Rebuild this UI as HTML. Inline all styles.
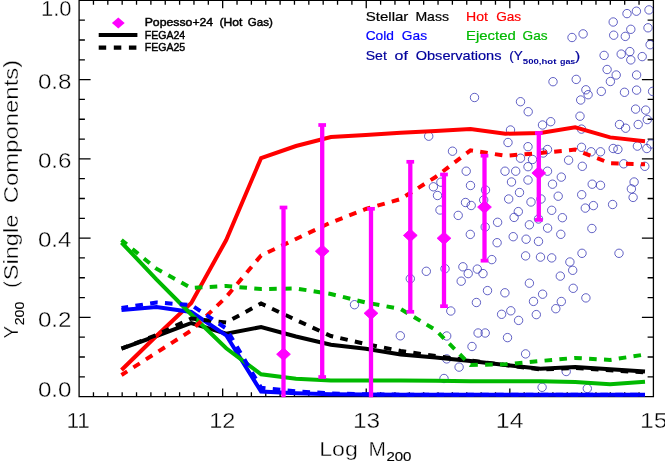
<!DOCTYPE html>
<html><head><meta charset="utf-8"><title>Y200 vs Log M200</title>
<style>
html,body{margin:0;padding:0;background:#fff;}
body{width:665px;height:462px;overflow:hidden;font-family:"Liberation Sans",sans-serif;}
svg{display:block;will-change:transform;}
text{font-family:"Liberation Sans",sans-serif;}
</style></head><body>
<svg width="665" height="462" viewBox="0 0 665 462">
<rect x="0" y="0" width="665" height="462" fill="#ffffff"/>
<defs><clipPath id="pc"><rect x="79.1" y="0" width="574.3" height="397.2"/></clipPath></defs>

<g stroke="#000" stroke-width="1.3" fill="none" stroke-linecap="butt">
<path d="M79.10 0.35 L653.40 0.35 L653.40 396.60 L79.10 396.60 Z"/>
<path d="M93.46 396.60 V392.30 M93.46 0.35 V4.65"/>
<path d="M107.81 396.60 V392.30 M107.81 0.35 V4.65"/>
<path d="M122.17 396.60 V392.30 M122.17 0.35 V4.65"/>
<path d="M136.53 396.60 V392.30 M136.53 0.35 V4.65"/>
<path d="M150.89 396.60 V392.30 M150.89 0.35 V4.65"/>
<path d="M165.24 396.60 V392.30 M165.24 0.35 V4.65"/>
<path d="M179.60 396.60 V392.30 M179.60 0.35 V4.65"/>
<path d="M193.96 396.60 V392.30 M193.96 0.35 V4.65"/>
<path d="M208.32 396.60 V392.30 M208.32 0.35 V4.65"/>
<path d="M222.67 396.60 V388.60 M222.67 0.35 V8.35"/>
<path d="M237.03 396.60 V392.30 M237.03 0.35 V4.65"/>
<path d="M251.39 396.60 V392.30 M251.39 0.35 V4.65"/>
<path d="M265.75 396.60 V392.30 M265.75 0.35 V4.65"/>
<path d="M280.11 396.60 V392.30 M280.11 0.35 V4.65"/>
<path d="M294.46 396.60 V392.30 M294.46 0.35 V4.65"/>
<path d="M308.82 396.60 V392.30 M308.82 0.35 V4.65"/>
<path d="M323.18 396.60 V392.30 M323.18 0.35 V4.65"/>
<path d="M337.54 396.60 V392.30 M337.54 0.35 V4.65"/>
<path d="M351.89 396.60 V392.30 M351.89 0.35 V4.65"/>
<path d="M366.25 396.60 V388.60 M366.25 0.35 V8.35"/>
<path d="M380.61 396.60 V392.30 M380.61 0.35 V4.65"/>
<path d="M394.96 396.60 V392.30 M394.96 0.35 V4.65"/>
<path d="M409.32 396.60 V392.30 M409.32 0.35 V4.65"/>
<path d="M423.68 396.60 V392.30 M423.68 0.35 V4.65"/>
<path d="M438.04 396.60 V392.30 M438.04 0.35 V4.65"/>
<path d="M452.39 396.60 V392.30 M452.39 0.35 V4.65"/>
<path d="M466.75 396.60 V392.30 M466.75 0.35 V4.65"/>
<path d="M481.11 396.60 V392.30 M481.11 0.35 V4.65"/>
<path d="M495.47 396.60 V392.30 M495.47 0.35 V4.65"/>
<path d="M509.82 396.60 V388.60 M509.82 0.35 V8.35"/>
<path d="M524.18 396.60 V392.30 M524.18 0.35 V4.65"/>
<path d="M538.54 396.60 V392.30 M538.54 0.35 V4.65"/>
<path d="M552.90 396.60 V392.30 M552.90 0.35 V4.65"/>
<path d="M567.25 396.60 V392.30 M567.25 0.35 V4.65"/>
<path d="M581.61 396.60 V392.30 M581.61 0.35 V4.65"/>
<path d="M595.97 396.60 V392.30 M595.97 0.35 V4.65"/>
<path d="M610.33 396.60 V392.30 M610.33 0.35 V4.65"/>
<path d="M624.69 396.60 V392.30 M624.69 0.35 V4.65"/>
<path d="M639.04 396.60 V392.30 M639.04 0.35 V4.65"/>
<path d="M79.10 376.79 H84.90 M653.40 376.79 H647.60"/>
<path d="M79.10 356.98 H84.90 M653.40 356.98 H647.60"/>
<path d="M79.10 337.16 H84.90 M653.40 337.16 H647.60"/>
<path d="M79.10 317.35 H90.60 M653.40 317.35 H641.90"/>
<path d="M79.10 297.54 H84.90 M653.40 297.54 H647.60"/>
<path d="M79.10 277.73 H84.90 M653.40 277.73 H647.60"/>
<path d="M79.10 257.91 H84.90 M653.40 257.91 H647.60"/>
<path d="M79.10 238.10 H90.60 M653.40 238.10 H641.90"/>
<path d="M79.10 218.29 H84.90 M653.40 218.29 H647.60"/>
<path d="M79.10 198.48 H84.90 M653.40 198.48 H647.60"/>
<path d="M79.10 178.66 H84.90 M653.40 178.66 H647.60"/>
<path d="M79.10 158.85 H90.60 M653.40 158.85 H641.90"/>
<path d="M79.10 139.04 H84.90 M653.40 139.04 H647.60"/>
<path d="M79.10 119.23 H84.90 M653.40 119.23 H647.60"/>
<path d="M79.10 99.41 H84.90 M653.40 99.41 H647.60"/>
<path d="M79.10 79.60 H90.60 M653.40 79.60 H641.90"/>
<path d="M79.10 59.79 H84.90 M653.40 59.79 H647.60"/>
<path d="M79.10 39.98 H84.90 M653.40 39.98 H647.60"/>
<path d="M79.10 20.16 H84.90 M653.40 20.16 H647.60"/>
</g>
<g fill="none" stroke="#2e2eb2" stroke-width="0.75" clip-path="url(#pc)">
<circle cx="474.5" cy="97.5" r="4.2"/>
<circle cx="520.5" cy="101.7" r="4.2"/>
<circle cx="528.2" cy="111.7" r="4.2"/>
<circle cx="580.7" cy="100.0" r="4.2"/>
<circle cx="580.0" cy="116.2" r="4.2"/>
<circle cx="542.5" cy="125.0" r="4.2"/>
<circle cx="550.7" cy="121.7" r="4.2"/>
<circle cx="510.5" cy="130.0" r="4.2"/>
<circle cx="428.7" cy="136.2" r="4.2"/>
<circle cx="508.0" cy="142.5" r="4.2"/>
<circle cx="528.0" cy="146.7" r="4.2"/>
<circle cx="452.5" cy="151.2" r="4.2"/>
<circle cx="547.5" cy="149.5" r="4.2"/>
<circle cx="543.2" cy="153.0" r="4.2"/>
<circle cx="520.5" cy="158.2" r="4.2"/>
<circle cx="532.5" cy="159.5" r="4.2"/>
<circle cx="528.0" cy="166.7" r="4.2"/>
<circle cx="466.2" cy="171.2" r="4.2"/>
<circle cx="505.0" cy="171.2" r="4.2"/>
<circle cx="515.7" cy="171.2" r="4.2"/>
<circle cx="547.5" cy="171.2" r="4.2"/>
<circle cx="528.0" cy="180.0" r="4.2"/>
<circle cx="511.5" cy="182.0" r="4.2"/>
<circle cx="552.5" cy="184.2" r="4.2"/>
<circle cx="470.5" cy="185.5" r="4.2"/>
<circle cx="485.5" cy="190.0" r="4.2"/>
<circle cx="519.5" cy="192.5" r="4.2"/>
<circle cx="437.5" cy="195.5" r="4.2"/>
<circle cx="558.2" cy="196.2" r="4.2"/>
<circle cx="483.7" cy="200.0" r="4.2"/>
<circle cx="465.5" cy="202.5" r="4.2"/>
<circle cx="471.2" cy="205.5" r="4.2"/>
<circle cx="440.0" cy="210.0" r="4.2"/>
<circle cx="572.0" cy="37.5" r="4.2"/>
<circle cx="583.1" cy="33.9" r="4.2"/>
<circle cx="613.2" cy="22.0" r="4.2"/>
<circle cx="627.0" cy="13.6" r="4.2"/>
<circle cx="636.4" cy="11.2" r="4.2"/>
<circle cx="649.0" cy="9.9" r="4.2"/>
<circle cx="630.8" cy="29.3" r="4.2"/>
<circle cx="648.0" cy="27.8" r="4.2"/>
<circle cx="613.7" cy="35.2" r="4.2"/>
<circle cx="625.3" cy="36.4" r="4.2"/>
<circle cx="650.1" cy="44.7" r="4.2"/>
<circle cx="604.1" cy="55.4" r="4.2"/>
<circle cx="621.2" cy="54.1" r="4.2"/>
<circle cx="629.8" cy="51.6" r="4.2"/>
<circle cx="642.2" cy="56.6" r="4.2"/>
<circle cx="630.8" cy="59.9" r="4.2"/>
<circle cx="607.1" cy="69.5" r="4.2"/>
<circle cx="616.2" cy="75.0" r="4.2"/>
<circle cx="636.6" cy="75.0" r="4.2"/>
<circle cx="553.0" cy="81.7" r="4.2"/>
<circle cx="576.2" cy="79.4" r="4.2"/>
<circle cx="610.4" cy="81.5" r="4.2"/>
<circle cx="585.9" cy="89.8" r="4.2"/>
<circle cx="588.1" cy="94.7" r="4.2"/>
<circle cx="601.3" cy="91.4" r="4.2"/>
<circle cx="624.5" cy="92.3" r="4.2"/>
<circle cx="636.6" cy="90.1" r="4.2"/>
<circle cx="652.6" cy="91.4" r="4.2"/>
<circle cx="635.6" cy="109.1" r="4.2"/>
<circle cx="645.7" cy="110.1" r="4.2"/>
<circle cx="647.3" cy="119.6" r="4.2"/>
<circle cx="638.2" cy="124.5" r="4.2"/>
<circle cx="619.5" cy="124.5" r="4.2"/>
<circle cx="625.6" cy="128.2" r="4.2"/>
<circle cx="581.5" cy="129.1" r="4.2"/>
<circle cx="581.5" cy="147.3" r="4.2"/>
<circle cx="591.1" cy="151.8" r="4.2"/>
<circle cx="600.5" cy="151.8" r="4.2"/>
<circle cx="613.2" cy="148.5" r="4.2"/>
<circle cx="617.9" cy="149.4" r="4.2"/>
<circle cx="637.4" cy="146.1" r="4.2"/>
<circle cx="646.8" cy="148.5" r="4.2"/>
<circle cx="651.0" cy="144.0" r="4.2"/>
<circle cx="568.6" cy="160.2" r="4.2"/>
<circle cx="582.3" cy="166.3" r="4.2"/>
<circle cx="623.7" cy="163.8" r="4.2"/>
<circle cx="644.8" cy="166.3" r="4.2"/>
<circle cx="561.3" cy="177.1" r="4.2"/>
<circle cx="634.1" cy="182.0" r="4.2"/>
<circle cx="592.2" cy="184.2" r="4.2"/>
<circle cx="600.5" cy="185.3" r="4.2"/>
<circle cx="631.4" cy="188.9" r="4.2"/>
<circle cx="633.1" cy="197.4" r="4.2"/>
<circle cx="581.7" cy="194.7" r="4.2"/>
<circle cx="612.6" cy="204.5" r="4.2"/>
<circle cx="593.4" cy="205.6" r="4.2"/>
<circle cx="585.3" cy="208.1" r="4.2"/>
<circle cx="562.4" cy="217.7" r="4.2"/>
<circle cx="591.9" cy="228.5" r="4.2"/>
<circle cx="560.8" cy="234.3" r="4.2"/>
<circle cx="582.0" cy="253.3" r="4.2"/>
<circle cx="619.0" cy="253.3" r="4.2"/>
<circle cx="569.9" cy="262.0" r="4.2"/>
<circle cx="572.7" cy="270.3" r="4.2"/>
<circle cx="560.3" cy="276.1" r="4.2"/>
<circle cx="573.2" cy="288.3" r="4.2"/>
<circle cx="585.9" cy="297.9" r="4.2"/>
<circle cx="561.3" cy="301.5" r="4.2"/>
<circle cx="555.8" cy="308.7" r="4.2"/>
<circle cx="566.2" cy="371.5" r="4.2"/>
<circle cx="587.3" cy="388.5" r="4.2"/>
<circle cx="508.7" cy="199.0" r="4.2"/>
<circle cx="531.0" cy="202.0" r="4.2"/>
<circle cx="541.0" cy="199.0" r="4.2"/>
<circle cx="518.3" cy="211.6" r="4.2"/>
<circle cx="514.1" cy="217.4" r="4.2"/>
<circle cx="551.7" cy="210.3" r="4.2"/>
<circle cx="458.2" cy="215.4" r="4.2"/>
<circle cx="497.6" cy="222.3" r="4.2"/>
<circle cx="538.5" cy="219.0" r="4.2"/>
<circle cx="529.4" cy="224.8" r="4.2"/>
<circle cx="547.6" cy="228.1" r="4.2"/>
<circle cx="485.2" cy="227.0" r="4.2"/>
<circle cx="470.3" cy="234.4" r="4.2"/>
<circle cx="513.2" cy="236.7" r="4.2"/>
<circle cx="526.1" cy="239.2" r="4.2"/>
<circle cx="538.5" cy="241.4" r="4.2"/>
<circle cx="497.1" cy="242.7" r="4.2"/>
<circle cx="525.6" cy="255.9" r="4.2"/>
<circle cx="540.5" cy="257.1" r="4.2"/>
<circle cx="551.7" cy="257.9" r="4.2"/>
<circle cx="491.8" cy="259.6" r="4.2"/>
<circle cx="462.9" cy="266.8" r="4.2"/>
<circle cx="477.3" cy="269.1" r="4.2"/>
<circle cx="468.2" cy="273.6" r="4.2"/>
<circle cx="483.0" cy="273.6" r="4.2"/>
<circle cx="445.0" cy="268.7" r="4.2"/>
<circle cx="461.2" cy="281.2" r="4.2"/>
<circle cx="529.4" cy="283.2" r="4.2"/>
<circle cx="487.5" cy="290.6" r="4.2"/>
<circle cx="504.9" cy="292.8" r="4.2"/>
<circle cx="542.6" cy="294.2" r="4.2"/>
<circle cx="476.4" cy="302.5" r="4.2"/>
<circle cx="533.5" cy="301.4" r="4.2"/>
<circle cx="450.8" cy="311.0" r="4.2"/>
<circle cx="510.8" cy="310.8" r="4.2"/>
<circle cx="501.6" cy="314.3" r="4.2"/>
<circle cx="536.3" cy="314.6" r="4.2"/>
<circle cx="518.6" cy="320.4" r="4.2"/>
<circle cx="478.1" cy="333.0" r="4.2"/>
<circle cx="485.2" cy="333.0" r="4.2"/>
<circle cx="446.7" cy="336.0" r="4.2"/>
<circle cx="507.5" cy="337.6" r="4.2"/>
<circle cx="472.0" cy="346.5" r="4.2"/>
<circle cx="525.6" cy="353.9" r="4.2"/>
<circle cx="446.7" cy="358.9" r="4.2"/>
<circle cx="459.1" cy="367.1" r="4.2"/>
<circle cx="444.0" cy="378.5" r="4.2"/>
<circle cx="542.1" cy="387.3" r="4.2"/>
<circle cx="354.5" cy="304.7" r="4.2"/>
<circle cx="410.3" cy="278.7" r="4.2"/>
<circle cx="426.3" cy="271.3" r="4.2"/>
<circle cx="400.3" cy="335.8" r="4.2"/>
<circle cx="433.4" cy="186.8" r="4.2"/>
<circle cx="440.9" cy="182.2" r="4.2"/>
</g>
<g fill="none" stroke-width="4.0" stroke-linejoin="miter" stroke-linecap="butt" clip-path="url(#pc)">
<path d="M121.50 348.70 L156.40 336.00 L191.30 323.00 L226.20 333.70 L261.10 327.00 L296.00 336.50 L330.90 344.80 L365.80 348.80 L400.70 354.50 L435.60 357.50 L470.50 361.00 L505.40 365.00 L540.30 368.80 L575.20 367.00 L610.10 369.20 L645.00 371.50" stroke="#000000"/>
<path d="M121.50 370.00 L156.40 336.00 L191.30 303.00 L226.20 240.00 L261.10 158.00 L296.00 146.00 L330.90 137.00 L365.80 135.00 L400.70 132.70 L435.60 131.00 L470.50 129.00 L505.40 133.70 L540.30 133.00 L575.20 127.40 L610.10 137.40 L645.00 141.20" stroke="#ff0000"/>
<path d="M121.50 310.00 L156.40 307.00 L191.30 312.00 L226.20 335.30 L261.10 391.60 L296.00 393.20 L330.90 394.20 L365.80 394.60 L400.70 394.80 L435.60 394.80 L470.50 394.80 L505.40 394.80 L540.30 394.80 L575.20 394.80 L610.10 394.80 L645.00 394.80" stroke="#0000ff"/>
<path d="M121.50 242.50 L156.40 279.30 L191.30 314.50 L226.20 348.30 L261.10 374.30 L296.00 378.80 L330.90 380.50 L365.80 380.60 L400.70 380.60 L435.60 380.80 L470.50 381.20 L505.40 381.20 L540.30 381.30 L575.20 382.00 L610.10 384.30 L645.00 381.70" stroke="#00b900"/>
<path d="M121.50 348.70 L156.40 335.00 L191.30 318.50 L226.20 322.50 L261.10 303.50 L296.00 320.00 L330.90 336.00 L365.80 344.00 L400.70 351.00 L435.60 356.00 L470.50 360.50 L505.40 365.00 L540.30 369.50 L575.20 368.00 L610.10 370.20 L645.00 372.50" stroke="#000000" stroke-dasharray="7.6 7.3" stroke-dashoffset="0.8"/>
<path d="M121.50 375.00 L156.40 352.70 L191.30 330.50 L226.20 297.00 L261.10 255.50 L296.00 239.00 L330.90 222.50 L365.80 209.00 L400.70 199.00 L435.60 177.00 L470.50 150.30 L505.40 155.80 L540.30 153.00 L575.20 149.60 L610.10 163.30 L645.00 164.30" stroke="#ff0000" stroke-dasharray="7.6 7.3" stroke-dashoffset="0.8"/>
<path d="M121.50 308.00 L156.40 302.50 L191.30 305.00 L226.20 328.50 L261.10 387.80 L296.00 391.30 L330.90 393.40 L365.80 394.30 L400.70 394.70 L435.60 394.80 L470.50 394.80 L505.40 394.80 L540.30 394.80 L575.20 394.80 L610.10 394.80 L645.00 394.80" stroke="#0000ff" stroke-dasharray="7.6 7.3" stroke-dashoffset="0.8"/>
<path d="M121.50 240.00 L156.40 268.70 L191.30 288.00 L226.20 286.00 L261.10 289.00 L296.00 288.50 L330.90 294.00 L365.80 302.50 L400.70 309.00 L435.60 330.00 L470.50 365.00 L505.40 364.30 L540.30 361.00 L575.20 357.90 L610.10 359.90 L645.00 354.50" stroke="#00b900" stroke-dasharray="7.6 7.3" stroke-dashoffset="0.8"/>
</g>
<g fill="#ff00ff" stroke="#ff00ff" stroke-width="0" stroke-linejoin="round" clip-path="url(#pc)">
<rect x="281.35" y="207.50" width="4.30" height="191.10"/>
<rect x="279.65" y="205.65" width="7.70" height="3.70"/>
<path d="M276.60 354.20 L283.50 347.90 L290.40 354.20 L283.50 360.50 Z" stroke-width="0.9"/>
<rect x="320.05" y="125.00" width="4.30" height="252.00"/>
<rect x="318.35" y="123.15" width="7.70" height="3.70"/>
<rect x="318.35" y="375.15" width="7.70" height="3.70"/>
<path d="M315.30 251.20 L322.20 244.90 L329.10 251.20 L322.20 257.50 Z" stroke-width="0.9"/>
<rect x="368.85" y="208.80" width="4.30" height="189.80"/>
<rect x="367.15" y="206.95" width="7.70" height="3.70"/>
<path d="M364.10 313.30 L371.00 307.00 L377.90 313.30 L371.00 319.60 Z" stroke-width="0.9"/>
<rect x="408.15" y="161.80" width="4.30" height="150.00"/>
<rect x="406.45" y="159.95" width="7.70" height="3.70"/>
<rect x="406.45" y="309.95" width="7.70" height="3.70"/>
<path d="M403.40 235.40 L410.30 229.10 L417.20 235.40 L410.30 241.70 Z" stroke-width="0.9"/>
<rect x="441.85" y="174.50" width="4.30" height="131.70"/>
<rect x="440.15" y="172.65" width="7.70" height="3.70"/>
<rect x="440.15" y="304.35" width="7.70" height="3.70"/>
<path d="M437.10 238.30 L444.00 232.00 L450.90 238.30 L444.00 244.60 Z" stroke-width="0.9"/>
<rect x="482.35" y="155.70" width="4.30" height="105.00"/>
<rect x="480.65" y="153.85" width="7.70" height="3.70"/>
<rect x="480.65" y="258.85" width="7.70" height="3.70"/>
<path d="M477.60 207.10 L484.50 200.80 L491.40 207.10 L484.50 213.40 Z" stroke-width="0.9"/>
<rect x="536.65" y="133.00" width="4.30" height="86.90"/>
<rect x="534.95" y="131.15" width="7.70" height="3.70"/>
<rect x="534.95" y="218.05" width="7.70" height="3.70"/>
<path d="M531.90 173.00 L538.80 166.70 L545.70 173.00 L538.80 179.30 Z" stroke-width="0.9"/>
</g>
<text x="66.40" y="428.00" font-size="21.30" text-anchor="start" fill="#000" font-weight="normal" textLength="23.5" lengthAdjust="spacingAndGlyphs" stroke="#fff" stroke-width="0.35">11</text>
<text x="209.20" y="428.00" font-size="21.30" text-anchor="start" fill="#000" font-weight="normal" textLength="26.1" lengthAdjust="spacingAndGlyphs" stroke="#fff" stroke-width="0.35">12</text>
<text x="352.90" y="428.00" font-size="21.30" text-anchor="start" fill="#000" font-weight="normal" textLength="27.2" lengthAdjust="spacingAndGlyphs" stroke="#fff" stroke-width="0.35">13</text>
<text x="495.80" y="428.00" font-size="21.30" text-anchor="start" fill="#000" font-weight="normal" textLength="27.7" lengthAdjust="spacingAndGlyphs" stroke="#fff" stroke-width="0.35">14</text>
<text x="639.90" y="428.00" font-size="21.30" text-anchor="start" fill="#000" font-weight="normal" textLength="27.5" lengthAdjust="spacingAndGlyphs" stroke="#fff" stroke-width="0.35">15</text>
<text x="40.90" y="15.70" font-size="21.30" text-anchor="start" fill="#000" font-weight="normal" textLength="30.6" lengthAdjust="spacingAndGlyphs" stroke="#fff" stroke-width="0.35">1.0</text>
<text x="37.90" y="88.80" font-size="21.30" text-anchor="start" fill="#000" font-weight="normal" textLength="33.6" lengthAdjust="spacingAndGlyphs" stroke="#fff" stroke-width="0.35">0.8</text>
<text x="37.90" y="168.00" font-size="21.30" text-anchor="start" fill="#000" font-weight="normal" textLength="33.6" lengthAdjust="spacingAndGlyphs" stroke="#fff" stroke-width="0.35">0.6</text>
<text x="37.90" y="247.30" font-size="21.30" text-anchor="start" fill="#000" font-weight="normal" textLength="33.6" lengthAdjust="spacingAndGlyphs" stroke="#fff" stroke-width="0.35">0.4</text>
<text x="37.90" y="326.60" font-size="21.30" text-anchor="start" fill="#000" font-weight="normal" textLength="33.6" lengthAdjust="spacingAndGlyphs" stroke="#fff" stroke-width="0.35">0.2</text>
<text x="37.90" y="397.00" font-size="21.30" text-anchor="start" fill="#000" font-weight="normal" textLength="33.6" lengthAdjust="spacingAndGlyphs" stroke="#fff" stroke-width="0.35">0.0</text>
<text x="319.20" y="456.40" font-size="21.00" text-anchor="start" fill="#000" font-weight="normal" textLength="38.6" lengthAdjust="spacingAndGlyphs" stroke="#fff" stroke-width="0.35">Log</text>
<text x="368.60" y="456.40" font-size="21.00" text-anchor="start" fill="#000" font-weight="normal" textLength="17.4" lengthAdjust="spacingAndGlyphs" stroke="#fff" stroke-width="0.35">M</text>
<text x="386.40" y="461.20" font-size="12.80" text-anchor="start" fill="#000" font-weight="normal" textLength="25.0" lengthAdjust="spacingAndGlyphs" stroke="#000" stroke-width="0.15">200</text>
<g transform="translate(17.9 0) rotate(-90)">
<text x="-338.60" y="0.00" font-size="21.00" text-anchor="start" fill="#000" font-weight="normal" textLength="12.6" lengthAdjust="spacingAndGlyphs" stroke="#fff" stroke-width="0.35">Y</text>
<text x="-325.20" y="6.40" font-size="12.80" text-anchor="start" fill="#000" font-weight="normal" textLength="23.4" lengthAdjust="spacingAndGlyphs" stroke="#000" stroke-width="0.15">200</text>
<text x="-288.20" y="0.00" font-size="21.00" text-anchor="start" fill="#000" font-weight="normal" textLength="73.6" lengthAdjust="spacingAndGlyphs" stroke="#fff" stroke-width="0.35">(Single</text>
<text x="-203.30" y="0.00" font-size="21.00" text-anchor="start" fill="#000" font-weight="normal" textLength="143.5" lengthAdjust="spacingAndGlyphs" stroke="#fff" stroke-width="0.35">Components)</text>
</g>
<path d="M111.90 23.00 L118.30 17.40 L124.70 23.00 L118.30 28.60 Z" fill="#ff00ff"/>
<path d="M98.7 35 H137.4" stroke="#000" stroke-width="4.2" fill="none"/>
<path d="M98.7 47.6 H137.4" stroke="#000" stroke-width="4.4" fill="none" stroke-dasharray="7.5 7.6"/>
<text x="365.70" y="20.60" font-size="13.20" text-anchor="start" fill="#000000" font-weight="normal" textLength="42.7" lengthAdjust="spacingAndGlyphs" stroke="#000000" stroke-width="0.20">Stellar</text>
<text x="415.40" y="20.60" font-size="13.20" text-anchor="start" fill="#000000" font-weight="normal" textLength="33.6" lengthAdjust="spacingAndGlyphs" stroke="#000000" stroke-width="0.20">Mass</text>
<text x="466.10" y="20.60" font-size="13.20" text-anchor="start" fill="#ff0000" font-weight="normal" textLength="21.9" lengthAdjust="spacingAndGlyphs" stroke="#ff0000" stroke-width="0.20">Hot</text>
<text x="496.20" y="20.60" font-size="13.20" text-anchor="start" fill="#ff0000" font-weight="normal" textLength="25.0" lengthAdjust="spacingAndGlyphs" stroke="#ff0000" stroke-width="0.20">Gas</text>
<text x="365.70" y="40.20" font-size="13.20" text-anchor="start" fill="#0000ff" font-weight="normal" textLength="28.3" lengthAdjust="spacingAndGlyphs" stroke="#0000ff" stroke-width="0.20">Cold</text>
<text x="401.80" y="40.20" font-size="13.20" text-anchor="start" fill="#0000ff" font-weight="normal" textLength="25.2" lengthAdjust="spacingAndGlyphs" stroke="#0000ff" stroke-width="0.20">Gas</text>
<text x="466.10" y="40.20" font-size="13.20" text-anchor="start" fill="#00b900" font-weight="normal" textLength="49.7" lengthAdjust="spacingAndGlyphs" stroke="#00b900" stroke-width="0.20">Ejected</text>
<text x="522.60" y="40.20" font-size="13.20" text-anchor="start" fill="#00b900" font-weight="normal" textLength="25.0" lengthAdjust="spacingAndGlyphs" stroke="#00b900" stroke-width="0.20">Gas</text>
<text x="365.70" y="60.00" font-size="13.20" text-anchor="start" fill="#00009c" font-weight="normal" textLength="21.1" lengthAdjust="spacingAndGlyphs" stroke="#00009c" stroke-width="0.20">Set</text>
<text x="394.60" y="60.00" font-size="13.20" text-anchor="start" fill="#00009c" font-weight="normal" textLength="13.3" lengthAdjust="spacingAndGlyphs" stroke="#00009c" stroke-width="0.20">of</text>
<text x="415.70" y="60.00" font-size="13.20" text-anchor="start" fill="#00009c" font-weight="normal" textLength="85.8" lengthAdjust="spacingAndGlyphs" stroke="#00009c" stroke-width="0.20">Observations</text>
<text x="509.30" y="60.00" font-size="13.20" text-anchor="start" fill="#00009c" font-weight="normal" textLength="13.5" lengthAdjust="spacingAndGlyphs" stroke="#00009c" stroke-width="0.20">(Y</text>
<text x="575.00" y="60.00" font-size="13.20" text-anchor="start" fill="#00009c" font-weight="normal" textLength="5.2" lengthAdjust="spacingAndGlyphs" stroke="#00009c" stroke-width="0.20">)</text>
<text x="522.80" y="64.20" font-size="8.00" text-anchor="start" fill="#00009c" font-weight="bold" textLength="33.6" lengthAdjust="spacingAndGlyphs" stroke="#00009c" stroke-width="0.00">500,hot</text>
<text x="560.00" y="64.20" font-size="8.00" text-anchor="start" fill="#00009c" font-weight="bold" textLength="15.3" lengthAdjust="spacingAndGlyphs" stroke="#00009c" stroke-width="0.00">gas</text>
<text x="144.70" y="26.40" font-size="11.40" text-anchor="start" fill="#000000" font-weight="normal" textLength="68.5" lengthAdjust="spacingAndGlyphs" stroke="#000000" stroke-width="0.45">Popesso+24</text>
<text x="219.40" y="26.40" font-size="11.40" text-anchor="start" fill="#000000" font-weight="normal" textLength="22.9" lengthAdjust="spacingAndGlyphs" stroke="#000000" stroke-width="0.45">(Hot</text>
<text x="247.80" y="26.40" font-size="11.40" text-anchor="start" fill="#000000" font-weight="normal" textLength="25.0" lengthAdjust="spacingAndGlyphs" stroke="#000000" stroke-width="0.45">Gas)</text>
<text x="144.70" y="38.80" font-size="11.40" text-anchor="start" fill="#000000" font-weight="normal" textLength="40.5" lengthAdjust="spacingAndGlyphs" stroke="#000000" stroke-width="0.45">FEGA24</text>
<text x="144.70" y="51.10" font-size="11.40" text-anchor="start" fill="#000000" font-weight="normal" textLength="40.5" lengthAdjust="spacingAndGlyphs" stroke="#000000" stroke-width="0.45">FEGA25</text>
</svg></body></html>
